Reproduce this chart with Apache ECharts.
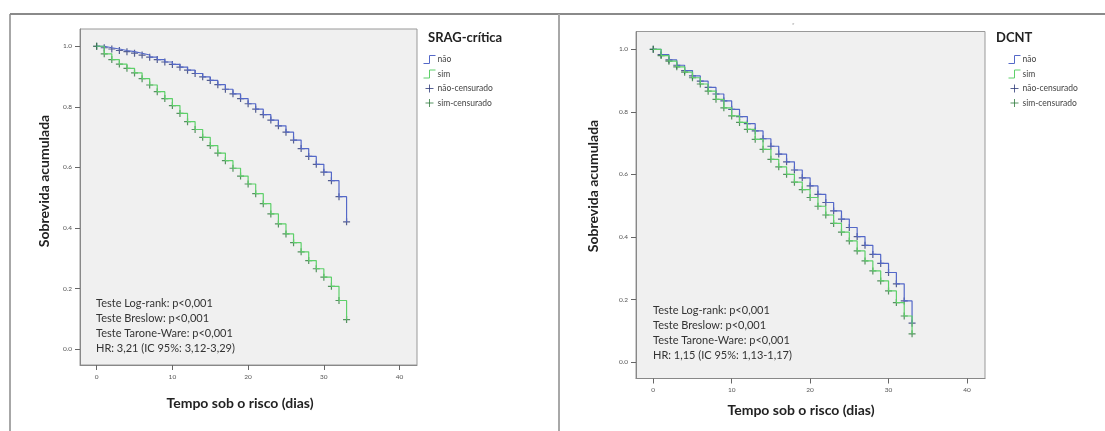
<!DOCTYPE html>
<html>
<head>
<meta charset="utf-8">
<script src="https://cdn.jsdelivr.net/npm/echarts@6/dist/echarts.min.js"></script>
<style>
  html, body { margin: 0; padding: 0; background: #fff; }
  #main { width: 1105px; height: 431px; }
</style>
</head>
<body>
<div id="main"></div>
<script>
// dias 0..33
var days = [0, 1, 2, 3, 4, 5, 6, 7, 8, 9, 10, 11, 12, 13, 14, 15, 16, 17, 18, 19, 20,
  21, 22, 23, 24, 25, 26, 27, 28, 29, 30, 31, 32, 33];

// SRAG-crítica
var sragNao = [1.000, 0.995, 0.991, 0.986, 0.982, 0.977, 0.971, 0.964, 0.956, 0.948, 0.940,
  0.931, 0.921, 0.910, 0.899, 0.887, 0.873, 0.858, 0.843, 0.827, 0.810,
  0.792, 0.774, 0.756, 0.737, 0.716, 0.690, 0.662, 0.636, 0.610, 0.584, 0.556, 0.503, 0.420];
var sragSim = [1.000, 0.975, 0.956, 0.941, 0.927, 0.912, 0.893, 0.872, 0.850, 0.827, 0.804,
  0.778, 0.751, 0.725, 0.699, 0.672, 0.647, 0.622, 0.597, 0.571, 0.545,
  0.513, 0.480, 0.446, 0.413, 0.380, 0.351, 0.321, 0.292, 0.265, 0.237, 0.207, 0.160, 0.097];

// DCNT
var dcntNao = [1.000, 0.983, 0.966, 0.949, 0.932, 0.915, 0.898, 0.878, 0.857, 0.835, 0.808,
  0.785, 0.762, 0.739, 0.714, 0.690, 0.665, 0.640, 0.614, 0.589, 0.563,
  0.536, 0.510, 0.483, 0.457, 0.430, 0.401, 0.373, 0.344, 0.315, 0.286, 0.250, 0.195, 0.124];
var dcntSim = [1.000, 0.980, 0.962, 0.944, 0.927, 0.909, 0.889, 0.866, 0.840, 0.813, 0.787,
  0.766, 0.744, 0.712, 0.680, 0.648, 0.624, 0.600, 0.575, 0.551, 0.526,
  0.498, 0.470, 0.443, 0.415, 0.387, 0.355, 0.323, 0.291, 0.259, 0.227, 0.190, 0.147, 0.090];

var xTicks = [0, 10, 20, 30, 40];
var yTicks = [0, 0.2, 0.4, 0.6, 0.8, 1.0];
var legendNames = ['não', 'sim', 'não-censurado', 'sim-censurado'];

var textsSrag = ['Teste Log-rank: p<0,001', 'Teste Breslow: p<0,001',
  'Teste Tarone-Ware: p<0,001', 'HR: 3,21 (IC 95%: 3,12-3,29)'];
var textsDcnt = ['Teste Log-rank: p<0,001', 'Teste Breslow: p<0,001',
  'Teste Tarone-Ware: p<0,001', 'HR: 1,15 (IC 95%: 1,13-1,17)'];

var FONT = 'Lato, "Open Sans", sans-serif';
var BLUE = '#5468c8', BLUE_DARK = '#2d3a78';
var GREEN = '#5ed06a', GREEN_DARK = '#2e7a3c';
var PLUS = 'path://M0,5 L10,5 M5,0 L5,10';
var STEP = 'path://M0,8 L6,8 L6,0 L12,0';

function pairs(ys) {
  return days.map(function (d, i) { return [d, ys[i]]; });
}

function xAxisFor(idx, gap, shift) {
  return {
    gridIndex: idx,
    type: 'value',
    min: -2.2,
    max: 42.3,
    name: 'Tempo sob o risco (dias)',
    nameLocation: 'middle',
    nameGap: gap,
    nameTextStyle: {
      fontFamily: FONT, fontSize: 14, fontWeight: 'bold', color: '#222',
      padding: [0, shift, 0, 0]
    },
    axisLine: { onZero: false, lineStyle: { color: '#888' } },
    axisTick: { show: true, length: 5, customValues: xTicks, lineStyle: { color: '#666' } },
    axisLabel: { customValues: xTicks, fontSize: 6.5, color: '#555', margin: 8, fontFamily: FONT },
    splitLine: { show: false }
  };
}

function yAxisFor(idx) {
  return {
    gridIndex: idx,
    type: 'value',
    min: -0.053,
    max: 1.057,
    axisLine: { show: true, onZero: false, lineStyle: { color: '#888' } },
    axisTick: { show: true, length: 5, customValues: yTicks, lineStyle: { color: '#666' } },
    axisLabel: {
      customValues: yTicks, fontSize: 6.5, color: '#555', margin: 8, fontFamily: FONT,
      formatter: function (v) { return v.toFixed(1); }
    },
    splitLine: { show: false }
  };
}

function seriesFor(idx, nao, sim) {
  return [{
    name: 'não', type: 'line', xAxisIndex: idx, yAxisIndex: idx,
    step: 'end', showSymbol: false, data: pairs(nao),
    lineStyle: { color: BLUE, width: 1.2 }, itemStyle: { color: BLUE }
  }, {
    name: 'sim', type: 'line', xAxisIndex: idx, yAxisIndex: idx,
    step: 'end', showSymbol: false, data: pairs(sim),
    lineStyle: { color: GREEN, width: 1.2 }, itemStyle: { color: GREEN }
  }, {
    name: 'não-censurado', type: 'scatter', xAxisIndex: idx, yAxisIndex: idx,
    symbol: PLUS, symbolSize: 7, data: pairs(nao),
    itemStyle: { color: 'none', borderColor: BLUE_DARK, borderWidth: 1.2 }
  }, {
    name: 'sim-censurado', type: 'scatter', xAxisIndex: idx, yAxisIndex: idx,
    symbol: PLUS, symbolSize: 7, data: pairs(sim),
    itemStyle: { color: 'none', borderColor: GREEN_DARK, borderWidth: 1.2 }
  }];
}

function legendFor(left, top) {
  var cols = [BLUE, GREEN, BLUE_DARK, GREEN_DARK];
  return {
    left: left, top: top, orient: 'vertical', padding: 0,
    itemWidth: 12, itemHeight: 8, itemGap: 1.5,
    selectedMode: false,
    textStyle: { fontFamily: FONT, fontSize: 8.5, lineHeight: 9, color: '#444', padding: [0, 0, 0, -3] },
    data: legendNames.map(function (n, i) {
      return {
        name: n,
        icon: i < 2 ? STEP : PLUS,
        itemStyle: { color: 'none', borderColor: cols[i], borderWidth: 1 }
      };
    })
  };
}

function textBlock(x, y, lines) {
  return lines.map(function (t, i) {
    return {
      type: 'text', left: x, top: y + i * 15,
      style: { text: t, fontFamily: FONT, fontSize: 11, fill: '#333' }
    };
  });
}

function yTitle(x, y) {
  return {
    type: 'text', x: x, y: y, rotation: Math.PI / 2,
    style: {
      text: 'Sobrevida acumulada', fontFamily: FONT, fontSize: 14, fontWeight: 'bold',
      fill: '#222', align: 'center', verticalAlign: 'middle'
    }
  };
}

var chart = echarts.init(document.getElementById('main'));

var option = {
  animation: false,
  title: [{
    text: 'SRAG-crítica', left: 423, top: 26,
    textStyle: { fontFamily: FONT, fontSize: 13, fontWeight: 'bold', color: '#222' }
  }, {
    text: 'DCNT', left: 991, top: 26,
    textStyle: { fontFamily: FONT, fontSize: 13, fontWeight: 'bold', color: '#222' }
  }],
  legend: [legendFor(421, 53), legendFor(1006, 53)],
  grid: [
    { left: 80, top: 29, width: 337, height: 336, show: true, backgroundColor: '#f0f0f0', borderColor: '#999' },
    { left: 636, top: 31.5, width: 349, height: 347, show: true, backgroundColor: '#f0f0f0', borderColor: '#999' }
  ],
  xAxis: [xAxisFor(0, 31, 17), xAxisFor(1, 25, 19)],
  yAxis: [yAxisFor(0), yAxisFor(1)],
  series: seriesFor(0, sragNao, sragSim).concat(seriesFor(1, dcntNao, dcntSim)),
  graphic: [
    { type: 'line', shape: { x1: 10, y1: 14, x2: 1105, y2: 14 }, style: { stroke: '#8a8a8a', lineWidth: 2 } },
    { type: 'line', shape: { x1: 10, y1: 14, x2: 10, y2: 431 }, style: { stroke: '#8a8a8a', lineWidth: 1.5 } },
    { type: 'line', shape: { x1: 559, y1: 14, x2: 559, y2: 431 }, style: { stroke: '#a8a8a8', lineWidth: 2 } },
    { type: 'text', left: 792, top: 22, style: { text: '*', fontSize: 6, fill: '#aaa' } },
    yTitle(44, 181),
    yTitle(593, 186)
  ].concat(textBlock(96, 298, textsSrag)).concat(textBlock(653, 305, textsDcnt))
};

chart.setOption(option);
</script>
</body>
</html>
